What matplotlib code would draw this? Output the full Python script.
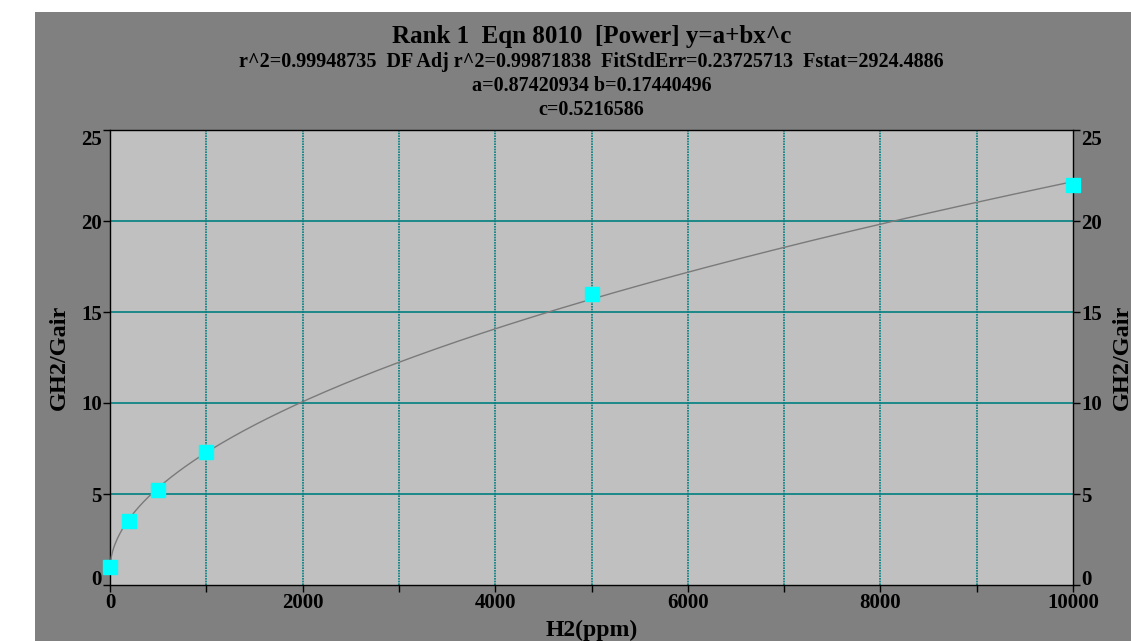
import numpy as np
import matplotlib
matplotlib.use("Agg")
import matplotlib.pyplot as plt
from matplotlib.patches import Rectangle

# pontos medidos
h2_ppm = [0, 200, 500, 1000, 5000, 10000]
gh2_gair = [1.0, 3.5, 5.2, 7.3, 16.0, 22.0]

coef_a = 0.87420934
coef_b = 0.17440496
coef_c = 0.5216586

titulo = "Rank 1  Eqn 8010  [Power] y=a+bx^c"
subtitulo = ["r^2=0.99948735  DF Adj r^2=0.99871838  FitStdErr=0.23725713  Fstat=2924.4886",
             "a=0.87420934 b=0.17440496",
             "c=0.5216586"]

FONTE = "Liberation Serif"
W, H = 1131, 641

fig = plt.figure(figsize=(W / 100, H / 100), dpi=100, facecolor="white")
fig.patches.append(Rectangle((35 / W, 0), 1 - 35 / W, 1 - 12 / H,
                             transform=fig.transFigure, facecolor="#808080",
                             edgecolor="none", zorder=-10))

ax = fig.add_axes([110 / W, 1 - 585 / H, (1073 - 110) / W, (585 - 130) / H])
ax.set_facecolor("#C0C0C0")

# curva do ajuste y = a + b x^c
xc = np.linspace(0, 10000, 800)
ax.plot(xc, coef_a + coef_b * xc ** coef_c, color="#7a7a7a", lw=1.0, zorder=3)

ax.plot(h2_ppm, gh2_gair, linestyle="None", marker="s", markersize=10.5,
        color="#00FFFF", markeredgecolor="#00FFFF", clip_on=False, zorder=4)

ax.set_xlim(0, 10000)
ax.set_ylim(0, 25)

# grade
for xv in range(1000, 10000, 1000):
    ax.axvline(xv, color="#008080", lw=1.2, linestyle=(0, (1, 0.6)), zorder=1)
for yv in range(5, 25, 5):
    ax.axhline(yv, color="#008080", lw=1.2, zorder=1)

ax.set_xticks(range(0, 10001, 2000))
ax.set_xticks(range(1000, 10000, 2000), minor=True)
ax.set_yticks(range(0, 26, 5))
ax.tick_params(axis="both", which="both", direction="out", length=5,
               width=1, colors="black", labelsize=15)
ax.tick_params(axis="x", which="major", pad=1)
ax.tick_params(axis="y", right=True, labelright=True, pad=1)
for lbl in ax.get_xticklabels() + ax.get_yticklabels():
    lbl.set_fontfamily(FONTE)
    lbl.set_fontweight("bold")
for s in ax.spines.values():
    s.set_color("black")
    s.set_linewidth(1)

# rotulos das pontas ficam dentro da altura do eixo
yticks = ax.yaxis.get_major_ticks()
for t in (yticks[0].label1, yticks[0].label2):
    t.set_verticalalignment("baseline")
for t in (yticks[-1].label1, yticks[-1].label2):
    t.set_verticalalignment("top")

ax.set_xlabel("H2(ppm)", fontsize=17, fontweight="bold", family=FONTE, labelpad=5)
ax.set_ylabel("GH2/Gair", fontsize=17.5, fontweight="bold", family=FONTE, labelpad=8)
fig.text(1122 / W, 1 - 357 / H, "GH2/Gair", rotation=90, ha="center", va="center",
         fontsize=17.5, fontweight="bold", family=FONTE)

cx = (110 + 1073) / 2 / W
fig.text(cx, 1 - 37 / H, titulo, ha="center", va="center",
         fontsize=18, fontweight="bold", family=FONTE)
for i, linha in enumerate(subtitulo):
    fig.text(cx, 1 - (62 + 24 * i) / H, linha, ha="center", va="center",
             fontsize=14.5, fontweight="bold", family=FONTE)

fig.savefig("out.png", dpi=100, facecolor="white")
